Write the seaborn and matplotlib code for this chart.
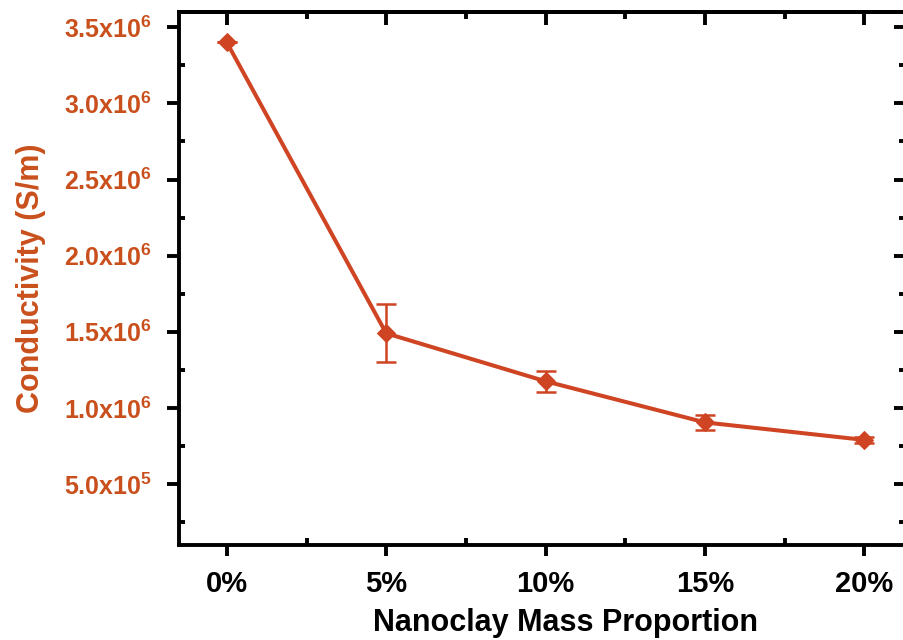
import numpy as np
import pandas as pd
import matplotlib
matplotlib.use("Agg")
import matplotlib.pyplot as plt
import seaborn as sns
from matplotlib.ticker import MultipleLocator, FuncFormatter, FixedLocator

# data
mass_pct = [0, 5, 10, 15, 20]
conductivity = [3.40e6, 1.49e6, 1.175e6, 0.905e6, 0.79e6]
cond_err = [0.0, 0.19e6, 0.07e6, 0.05e6, 0.02e6]
x_labels = ["0%", "5%", "10%", "15%", "20%"]
y_major = [0.5e6, 1.0e6, 1.5e6, 2.0e6, 2.5e6, 3.0e6, 3.5e6]
y_minor = [0.25e6, 0.75e6, 1.25e6, 1.75e6, 2.25e6, 2.75e6, 3.25e6]

df = pd.DataFrame({"mass": mass_pct, "cond": conductivity, "err": cond_err})

line_color = "#CF4422"
label_color = "#C9501C"

sns.set_style("ticks")
plt.rcParams["font.family"] = ["Liberation Sans", "DejaVu Sans"]
plt.rcParams["font.weight"] = "bold"
plt.rcParams["text.color"] = "black"
plt.rcParams["axes.labelcolor"] = "black"
plt.rcParams["mathtext.fontset"] = "custom"
plt.rcParams["mathtext.bf"] = "Liberation Sans:bold"
plt.rcParams["mathtext.rm"] = "Liberation Sans:bold"

fig = plt.figure(figsize=(9.04, 6.40), dpi=100)
ax = fig.add_axes([179 / 904, 95 / 640, (909 - 179) / 904, (545 - 12) / 640])

ax.errorbar(df["mass"], df["cond"], yerr=df["err"], fmt="none",
            ecolor=line_color, elinewidth=1.8, capsize=7, capthick=1.8, zorder=2)
sns.lineplot(data=df, x="mass", y="cond", ax=ax, color=line_color,
             linewidth=2.9, marker="D", markersize=9.5, markeredgecolor=line_color,
             zorder=3)

ax.set_xlim(-1.5, 21.4)
ax.set_ylim(0.1e6, 3.6e6)

ax.set_xticks(mass_pct)
ax.set_xticklabels(x_labels, fontsize=21, fontweight="bold", color="black")
ax.xaxis.set_minor_locator(MultipleLocator(2.5))

def sci_fmt(v, pos):
    exp = int(np.floor(np.log10(v)))
    mant = v / 10 ** exp
    return f"{mant:.1f}x10$^{{\\mathbf{{{exp}}}}}$"

ax.yaxis.set_major_locator(FixedLocator(y_major))
ax.yaxis.set_major_formatter(FuncFormatter(sci_fmt))
ax.yaxis.set_minor_locator(FixedLocator(y_minor))

ax.set_xlabel("Nanoclay Mass Proportion", fontsize=22, fontweight="bold",
              color="black")
ax.xaxis.set_label_coords(0.529, -0.118)
ax.set_ylabel("Conductivity (S/m)", fontsize=22, fontweight="bold",
              color=label_color, labelpad=13)

for side in ["left", "bottom", "top", "right"]:
    ax.spines[side].set_visible(True)
    ax.spines[side].set_linewidth(2.8)
    ax.spines[side].set_color("black")

ax.tick_params(axis="x", which="major", direction="out", length=8, width=2.8,
               pad=10, color="black")
ax.tick_params(axis="x", which="minor", direction="in", length=5, width=2.8,
               color="black")
ax.tick_params(axis="y", which="major", direction="out", length=8.5, width=2.8,
               pad=11, color="black", labelsize=18, labelcolor=label_color)
ax.tick_params(axis="y", which="minor", direction="in", length=4, width=2.8,
               color="black")

# inward ticks on the top and right frame
top = ax.secondary_xaxis("top")
top.set_xticks(mass_pct)
top.set_xticklabels([])
top.xaxis.set_minor_locator(MultipleLocator(2.5))
top.tick_params(which="major", direction="in", length=9, width=2.8, color="black")
top.tick_params(which="minor", direction="in", length=5, width=2.8, color="black")
top.spines["top"].set_linewidth(2.8)
top.spines["top"].set_color("black")

right = ax.secondary_yaxis("right")
right.set_yticks(y_major)
right.set_yticklabels([])
right.yaxis.set_minor_locator(FixedLocator(y_minor))
right.tick_params(which="major", direction="in", length=11, width=2.8, color="black")
right.tick_params(which="minor", direction="in", length=7, width=2.8, color="black")

fig.savefig("out.png", dpi=100, facecolor="white")
